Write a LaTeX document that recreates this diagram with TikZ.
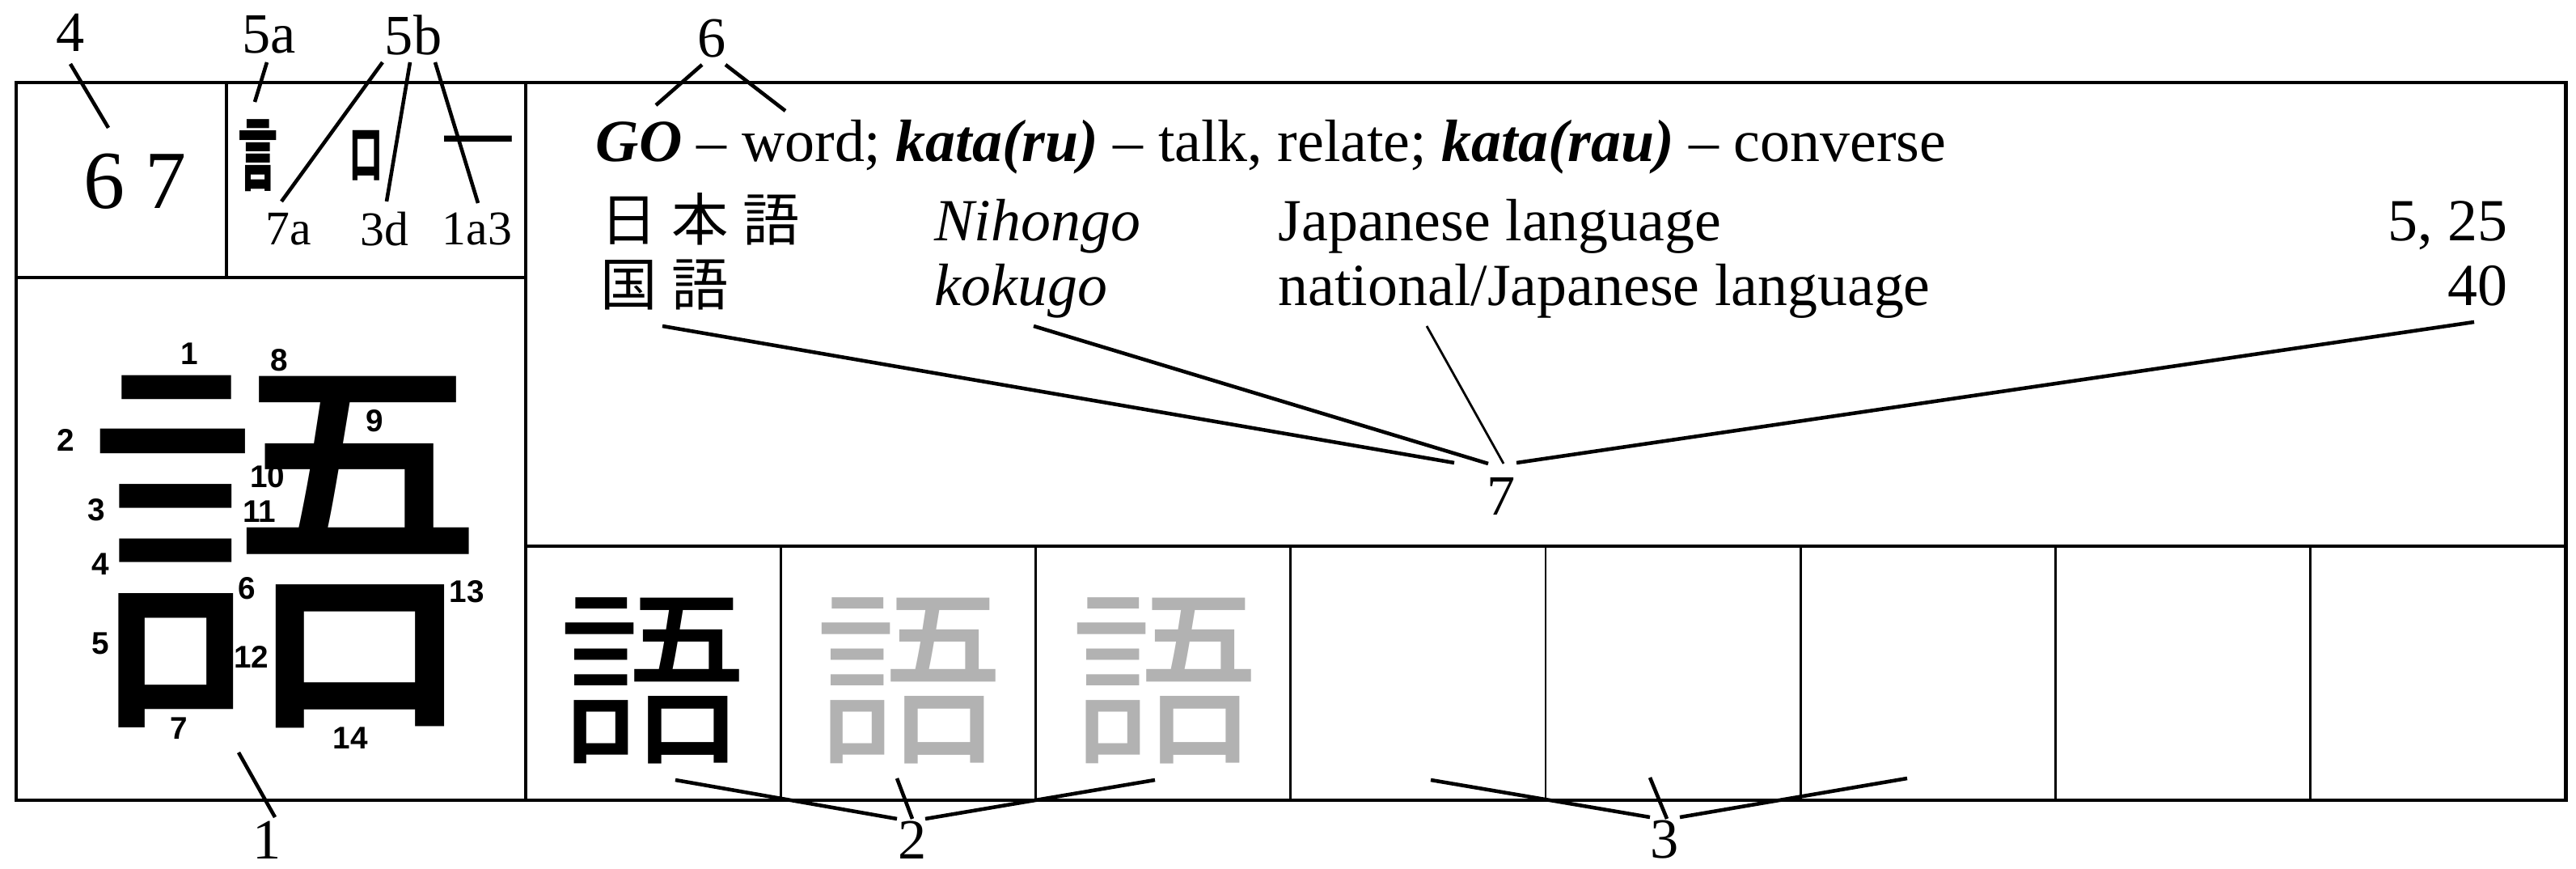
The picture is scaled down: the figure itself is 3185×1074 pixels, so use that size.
\documentclass[tikz,border=0pt]{standalone}
\usepackage{fontspec}
\usepackage{graphicx}
\setmainfont{Liberation Serif}
\newfontfamily\cjk{Noto Sans CJK JP}
\newfontfamily\strokefont{Liberation Sans}
\usetikzlibrary{positioning}

\begin{document}
\begin{tikzpicture}[x=0.01cm, y=-0.01cm, inner sep=0pt,
    frame/.style={line width=1.4pt},
    cellline/.style={line width=0.8pt},
    ldr/.style={line width=1.3pt},
    thinldr/.style={line width=0.8pt},
    lbl/.style={font=\fontsize{20}{20}\selectfont},
    sublbl/.style={font=\fontsize{17}{17}\selectfont},
    txt/.style={anchor=base west, font=\fontsize{21}{21}\selectfont},
    kanjirow/.style={anchor=base west, font=\cjk\fontsize{20}{20}\selectfont},
    snum/.style={font=\strokefont\bfseries\fontsize{11}{11}\selectfont}]
    \useasboundingbox (0,0) rectangle (3185,1074);

    \draw[frame] (20,102) rectangle (3172,989);
    \draw[frame] (280,102) -- (280,343);
    \draw[frame] (650,102) -- (650,989);
    \draw[frame] (20,343) -- (650,343);
    \draw[frame] (650,675) -- (3172,675);
    \foreach \i in {1,...,7}
        \draw[cellline] ({650+\i*315.25},675) -- ({650+\i*315.25},989);

    \node[font=\fontsize{29}{29}\selectfont] (strokes) at (167,224) {6 7};
    \node[font=\cjk\bfseries\fontsize{28}{28}\selectfont] (rad) at (319,192) {\scalebox{0.5}[1]{言}};
    \node[font=\cjk\bfseries\fontsize{21}{21}\selectfont] (mouth) at (453,192) {\scalebox{0.55}[1]{口}};
    \node[font=\cjk\fontsize{26}{26}\selectfont] (one) at (591,188) {一};
    \node[sublbl] (c7a) at (357,283) {7a};
    \node[sublbl] (c3d) at (475,283) {3d};
    \node[sublbl] (c1a3) at (590,283) {1a3};

    \node[font=\cjk\fontsize{140}{140}\selectfont] (big) at (352,682) {語};
    \foreach \n/\x/\y in {1/234/437, 2/81/544, 3/119/630, 4/124/697, 5/124/795,
        6/305/727, 7/221/900, 8/345/445, 9/463/520, 10/331/589, 11/321/632,
        12/311/812, 13/577/731, 14/433/912}
        \node[snum] (s\n) at (\x,\y) {\n};

    \node[txt] (def) at (736,200) {\textbf{\textit{GO}} -- word; \textbf{\textit{kata(ru)}} -- talk, relate; \textbf{\textit{kata(rau)}} -- converse};
    \node[kanjirow] (jw1) at (742,298) {日\hspace{0.25em}本\hspace{0.25em}語};
    \node[txt] (rd1) at (1155,298) {\textit{Nihongo}};
    \node[txt] (en1) at (1580,298) {Japanese language};
    \node[txt, anchor=base east] (pg1) at (3101,298) {5, 25};
    \node[kanjirow] (jw2) at (742,378) {国\hspace{0.25em}語};
    \node[txt] (rd2) at (1155,378) {\textit{kokugo}};
    \node[txt] (en2) at (1580,378) {national/Japanese language};
    \node[txt, anchor=base east] (pg2) at (3101,378) {40};

    \node[font=\cjk\fontsize{66}{66}\selectfont] (w1) at (807,841) {語};
    \node[font=\cjk\fontsize{66}{66}\selectfont, text=black!30] (w2) at (1124,841) {語};
    \node[font=\cjk\fontsize{66}{66}\selectfont, text=black!30] (w3) at (1440,841) {語};

    \node[lbl] (lab4) at (87,40) {4};
    \node[lbl] (lab5a) at (333,43) {5a};
    \node[lbl] (lab5b) at (511,43) {5b};
    \node[lbl] (lab6) at (880,48) {6};
    \node[lbl] (lab7) at (1856,613) {7};
    \node[lbl] (lab1) at (330,1038) {1};
    \node[lbl] (lab2) at (1128,1038) {2};
    \node[lbl] (lab3) at (2058,1038) {3};

    \foreach \nm/\ax/\ay/\bx/\by in {p4/87/79/134/158, p5a/330/77/315/126,
        p5b1/473/77/348/249, p5b2/507/77/478/249, p5b3/538/77/591/251,
        p6a/868/80/811/130, p6b/897/80/971/137, p1/295/930/340/1010,
        p7a/819/403/1798/572, p7b/1278/403/1840/573, p7d/3059/398/1875/572,
        p2a/835/964/1109/1012, p2b/1109/962/1128/1012, p2c/1428/964/1144/1012,
        p3a/1769/964/2040/1010, p3b/2040/961/2061/1012, p3c/2358/962/2077/1010}
    {
        \coordinate (\nm s) at (\ax,\ay);
        \coordinate (\nm e) at (\bx,\by);
        \draw[ldr] (\nm s) -- (\nm e);
    }
    \coordinate (p7cs) at (1764,403);
    \coordinate (p7ce) at (1859,573);
    \draw[thinldr] (p7cs) -- (p7ce);
\end{tikzpicture}
\end{document}
